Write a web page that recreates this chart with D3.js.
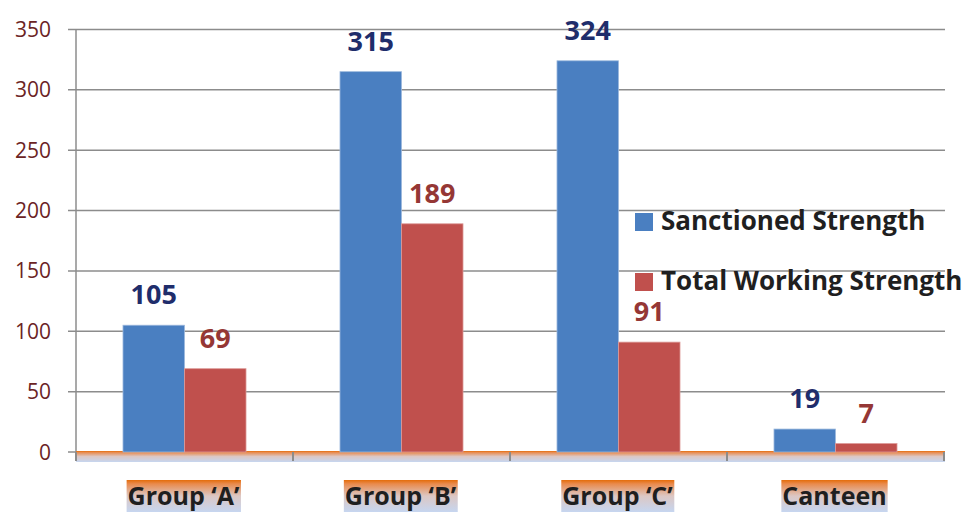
<!doctype html>
<html>
<head>
<meta charset="UTF-8">
<script src="https://d3js.org/d3.v7.min.js"></script>
<style>
body { margin: 0; background: #fff; }
.tick-lbl { font: 21px "Open Sans", sans-serif; fill: #6b2424; }
.val { font: bold 27px "Open Sans", sans-serif; }
.cat { font: bold 25px "Open Sans", sans-serif; fill: #1f1f1f; }
.leg { font: bold 26px "Open Sans", sans-serif; fill: #1f1f1f; }
</style>
</head>
<body>
<script>
// chart data
var categories = ["Group \u2018A\u2019", "Group \u2018B\u2019", "Group \u2018C\u2019", "Canteen"];
var seriesNames = ["Sanctioned Strength", "Total Working Strength"];
var sanctioned = [105, 315, 324, 19];
var working = [69, 189, 91, 7];
var yTicks = [0, 50, 100, 150, 200, 250, 300, 350];

var w = 968, h = 512;
var barColors = ["#4a7fc1", "#c0504d"];
var labelColors = ["#1f2d6b", "#953735"];

var svg = d3.select("body").append("svg")
  .attr("width", w)
  .attr("height", h);

var defs = svg.append("defs");
var grad = defs.append("linearGradient").attr("id", "strip")
  .attr("x1", 0).attr("y1", 0).attr("x2", 0).attr("y2", 1);
grad.append("stop").attr("offset", "0%").attr("stop-color", "#e46c0a");
grad.append("stop").attr("offset", "12%").attr("stop-color", "#e98a4c");
grad.append("stop").attr("offset", "50%").attr("stop-color", "#dcc7c4");
grad.append("stop").attr("offset", "100%").attr("stop-color", "#c6d6f0");

var x = d3.scaleBand().domain(categories).range([76, 944]).paddingInner(0).paddingOuter(0);
var xs = d3.scaleBand().domain([0, 1]).range([0, x.bandwidth()]).paddingInner(0).paddingOuter(0.764);
var y = d3.scaleLinear().domain([0, 350]).range([452, 29.4]);

// gridlines
svg.append("g").selectAll("line")
  .data(yTicks).enter().append("line")
  .attr("x1", 68).attr("x2", 945)
  .attr("y1", function(d) { return y(d); })
  .attr("y2", function(d) { return y(d); })
  .attr("stroke", "#8c8c8c").attr("stroke-width", 1.5);

// y tick labels
svg.append("g").selectAll("text")
  .data(yTicks).enter().append("text")
  .attr("class", "tick-lbl")
  .attr("x", 51)
  .attr("y", function(d) { return y(d) + 7.5; })
  .attr("text-anchor", "end")
  .text(function(d) { return d; });

// y axis line
svg.append("line")
  .attr("x1", 76).attr("x2", 76)
  .attr("y1", y(350)).attr("y2", 461)
  .attr("stroke", "#8c8c8c").attr("stroke-width", 1.5);

// x axis strip
svg.append("rect")
  .attr("x", 76).attr("y", y(0) - 1)
  .attr("width", 869).attr("height", 11)
  .attr("fill", "url(#strip)");

// x ticks
var bounds = categories.map(function(c) { return x(c); }).concat([x(categories[3]) + x.bandwidth()]);
svg.append("g").selectAll("line")
  .data(bounds).enter().append("line")
  .attr("x1", function(d) { return d; }).attr("x2", function(d) { return d; })
  .attr("y1", y(0)).attr("y2", 461)
  .attr("stroke", "#8c8c8c").attr("stroke-width", 2);

// bars
var series = [sanctioned, working];
series.forEach(function(vals, s) {
  var g = svg.append("g");
  g.selectAll("rect")
    .data(vals).enter().append("rect")
    .attr("x", function(d, i) { return x(categories[i]) + xs(s); })
    .attr("y", function(d) { return y(d); })
    .attr("width", xs.bandwidth())
    .attr("height", function(d) { return y(0) - y(d); })
    .attr("fill", barColors[s])
    .attr("stroke", s === 0 ? "#9cb9dd" : "#dc9a98")
    .attr("stroke-width", 0.8);
  g.selectAll("text")
    .data(vals).enter().append("text")
    .attr("class", "val")
    .attr("x", function(d, i) { return x(categories[i]) + xs(s) + xs.bandwidth() / 2; })
    .attr("y", function(d) { return y(d) - 21; })
    .attr("text-anchor", "middle")
    .attr("fill", labelColors[s])
    .text(function(d) { return d; });
});

// category labels with gradient boxes
var cat = svg.append("g").selectAll("g")
  .data(categories).enter().append("g");
cat.append("text")
  .attr("class", "cat")
  .attr("x", function(d) { return x(d) + x.bandwidth() / 2 - 1; })
  .attr("y", 505)
  .attr("text-anchor", "middle")
  .text(function(d) { return d; });
cat.each(function() {
  var t = d3.select(this).select("text");
  var bb = t.node().getBBox();
  d3.select(this).insert("rect", "text")
    .attr("x", bb.x - 1).attr("y", 480)
    .attr("width", bb.width + 2).attr("height", 32)
    .attr("fill", "url(#strip)");
});

// legend
var legend = svg.append("g");
seriesNames.forEach(function(name, i) {
  legend.append("rect")
    .attr("x", 635).attr("y", 213 + i * 60)
    .attr("width", 18).attr("height", 18)
    .attr("fill", barColors[i]);
  legend.append("text")
    .attr("class", "leg")
    .attr("x", 661).attr("y", 230 + i * 60)
    .text(name);
});
</script>
</body>
</html>
